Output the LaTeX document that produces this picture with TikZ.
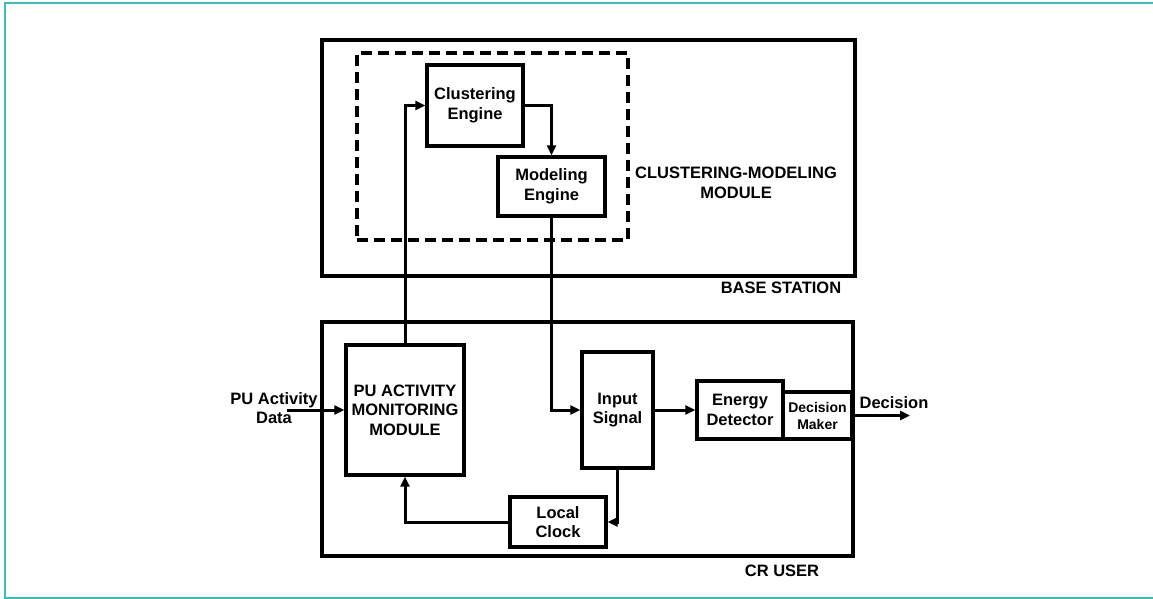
\documentclass[tikz,border=0pt]{standalone}
\usepackage{fontspec}
\setmainfont{Liberation Sans}
\usetikzlibrary{arrows.meta}
\definecolor{frameteal}{HTML}{3DBDB3}
\tikzset{
  blk/.style={draw, line width=3.2pt, minimum width=#1, inner sep=0pt, align=center, font=\bfseries\fontsize{16.5}{19.5}\selectfont},
  arr/.style={line width=3pt, -{Triangle[length=10pt,width=9pt]}},
  lbl/.style={align=center, inner sep=0pt, font=\bfseries\fontsize{16.5}{19.5}\selectfont},
}
\begin{document}
\begin{tikzpicture}[x=1pt,y=-1pt]
\useasboundingbox (0,0) rectangle (1153,599);
% frame
\draw[frameteal, line width=1.8pt] (1153,3) -- (5,3) -- (5,598) -- (1153,598);
% containers
\node[blk=533pt, minimum height=236pt] (base) at (588.5,158) {};
\node[draw, dash pattern=on 11pt off 6pt, line width=3.2pt, minimum width=271pt, minimum height=187pt, inner sep=0pt] (cmm) at (492.5,146.5) {};
\node[blk=531pt, minimum height=234pt] (cr) at (587.5,439) {};
% blocks
\node[blk=96pt, minimum height=81pt] (clus) at (475,105.5) {Clustering\\Engine};
\node[blk=107pt, minimum height=59pt] (model) at (551.5,186.5) {Modeling\\Engine};
\node[blk=118pt, minimum height=130pt] (pu) at (405,410) {PU ACTIVITY\\MONITORING\\MODULE};
\node[blk=71pt, minimum height=116pt] (input) at (617.5,410) {Input\\Signal};
\node[blk=86pt, minimum height=58pt] (energy) at (740,410) {Energy\\Detector};
\node[blk=69pt, minimum height=47pt, font=\bfseries\fontsize{14}{17}\selectfont] (dm) at (817.5,415.5) {Decision\\Maker};
\node[blk=96pt, minimum height=50pt] (clock) at (558,522) {Local\\Clock};
% labels
\node[lbl] (cmmlbl) at (736,183) {CLUSTERING-MODELING\\MODULE};
\node[lbl] (baselbl) at (781,288) {BASE STATION};
\node[lbl] (crlbl) at (782,571) {CR USER};
\node[lbl] (pulbl) at (274,408) {PU Activity\\Data};
\node[lbl] (declbl) at (894,403) {Decision};
\coordinate (pustart) at (287,410);
\coordinate (decend) at (910,415.5);
% connectors
\draw[arr] (pu.north) |- (clus.west);
\draw[arr] (clus.east) -| (model.north);
\draw[arr] (model.south) |- (input.west);
\draw[arr] (input.east) -- (energy.west);
\draw[arr] (input.south) |- (clock.east);
\draw[arr] (clock.west) -| (pu.south);
\draw[arr] (pustart) -- (pu.west);
\draw[arr] (dm.east) -- (decend);
\end{tikzpicture}
\end{document}
